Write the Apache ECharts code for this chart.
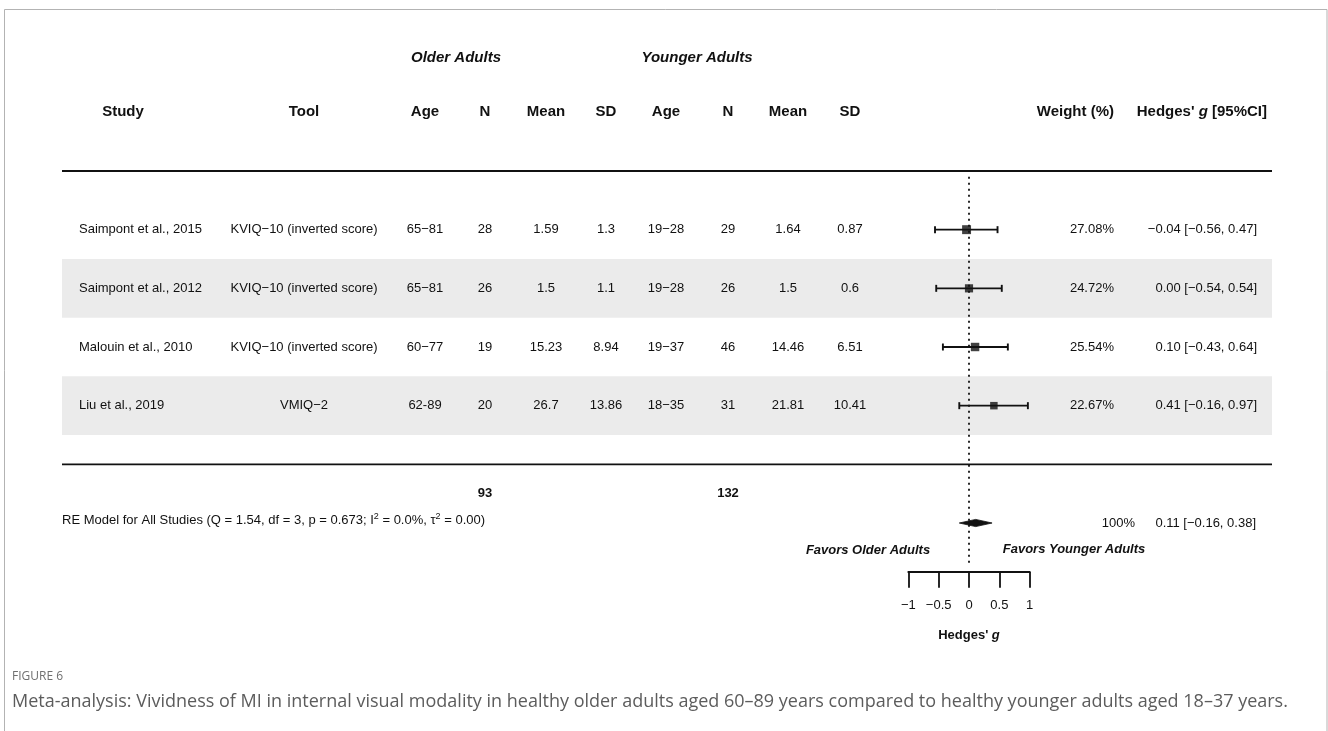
<!DOCTYPE html>
<html>
<head>
<meta charset="utf-8">
<script src="https://cdn.jsdelivr.net/npm/echarts@6/dist/echarts.min.js"></script>
<style>
  html, body { margin: 0; padding: 0; background: #ffffff; }
  #chart { width: 1328px; height: 731px; }
</style>
</head>
<body>
<div id="chart"></div>
<script>
// ---- Study data ----
const studies = ["Saimpont et al., 2015", "Saimpont et al., 2012", "Malouin et al., 2010", "Liu et al., 2019"];
const tools = ["KVIQ\u221210 (inverted score)", "KVIQ\u221210 (inverted score)", "KVIQ\u221210 (inverted score)", "VMIQ\u22122"];
const olderAge = ["65\u221281", "65\u221281", "60\u221277", "62-89"];
const olderN = [28, 26, 19, 20];
const olderMean = [1.59, 1.5, 15.23, 26.7];
const olderSD = [1.3, 1.1, 8.94, 13.86];
const youngerAge = ["19\u221228", "19\u221228", "19\u221237", "18\u221235"];
const youngerN = [29, 26, 46, 31];
const youngerMean = [1.64, 1.5, 14.46, 21.81];
const youngerSD = [0.87, 0.6, 6.51, 10.41];
const weights = [27.08, 24.72, 25.54, 22.67];
const hedgesG = [-0.04, 0.00, 0.10, 0.41];
const ciLower = [-0.56, -0.54, -0.43, -0.16];
const ciUpper = [0.47, 0.54, 0.64, 0.97];

// ---- Pooled (random-effects) result ----
const pooledG = 0.11;
const pooledLower = -0.16;
const pooledUpper = 0.38;
const pooledWeight = 100;
const totalOlderN = 93;
const totalYoungerN = 132;
const modelLabel = "RE Model for All Studies (Q = 1.54, df = 3, p = 0.673; I{sup|2} = 0.0%, \u03c4{sup|2} = 0.00)";

// ---- Axis ticks ----
const xTicks = [-1, -0.5, 0, 0.5, 1];

// ---- Layout ----
const FONT = "'Liberation Sans', Arial, sans-serif";
const INK = "#111111";
const ROW_UNITS = studies.map((_, i) => i);   // study rows, top to bottom
const SUMMARY_ROW = 5;
const colX = { tool: 304, oAge: 425, oN: 485, oMean: 546, oSD: 606, yAge: 666, yN: 728, yMean: 788, ySD: 850 };
const TABLE_LEFT = 62, TABLE_RIGHT = 1272;

const fmtSigned = v => (v < 0 ? "\u2212" : "") + Math.abs(v).toFixed(2);
const ciText = (g, lo, hi) => `${fmtSigned(g)} [${fmtSigned(lo)}, ${fmtSigned(hi)}]`;

const chart = echarts.init(document.getElementById('chart'), null, { renderer: 'canvas' });

const option = {
  animation: false,
  backgroundColor: '#ffffff',
  grid: { left: 908.3, right: 298.3, top: 171, bottom: 159.3, outerBoundsMode: 'none' },
  xAxis: {
    type: 'value', min: xTicks[0], max: xTicks[xTicks.length - 1], interval: 0.5,
    splitLine: { show: false },
    axisLine: { show: true, onZero: false, lineStyle: { color: INK, width: 1.8 } },
    axisTick: { show: true, inside: false, length: 16, lineStyle: { color: INK, width: 1.8 } },
    axisLabel: {
      margin: 27, color: INK, fontSize: 13, fontFamily: FONT,
      formatter: v => (v < 0 ? "\u2212" + Math.abs(v) : String(v))
    },
    name: "Hedges' {i|g}", nameLocation: 'middle', nameGap: 57,
    nameTextStyle: {
      color: INK, fontSize: 13, fontWeight: 'bold', fontFamily: FONT,
      rich: { i: { fontStyle: 'italic', fontWeight: 'bold', fontSize: 13, fontFamily: FONT, color: INK } }
    }
  },
  yAxis: {
    type: 'value', inverse: true, min: -1, max: 5.83, show: false
  },
  series: [
    {
      // reference line at no effect
      type: 'line', silent: true, symbol: 'none', z: 1,
      data: [[0, -0.9], [0, 5.7]],
      lineStyle: { color: INK, width: 1.8, type: [1.8, 4.2] }
    },
    {
      // 95% confidence intervals with end caps
      type: 'custom', silent: true, z: 3,
      data: ROW_UNITS.map(i => [ciLower[i], ciUpper[i], i]),
      encode: { x: [0, 1], y: 2 },
      renderItem: (params, api) => {
        const a = api.coord([api.value(0), api.value(2)]);
        const b = api.coord([api.value(1), api.value(2)]);
        const st = { stroke: INK, lineWidth: 1.9 };
        return {
          type: 'group',
          children: [
            { type: 'line', shape: { x1: a[0], y1: a[1], x2: b[0], y2: b[1] }, style: st },
            { type: 'line', shape: { x1: a[0], y1: a[1] - 3.5, x2: a[0], y2: a[1] + 3.5 }, style: st },
            { type: 'line', shape: { x1: b[0], y1: b[1] - 3.5, x2: b[0], y2: b[1] + 3.5 }, style: st }
          ]
        };
      }
    },
    {
      // point estimates sized by weight
      type: 'scatter', silent: true, z: 4, symbol: 'rect',
      data: ROW_UNITS.map(i => [hedgesG[i], i, weights[i]]),
      symbolSize: v => v[2] * 0.33,
      itemStyle: { color: INK }
    },
    {
      // pooled estimate diamond
      type: 'custom', silent: true, z: 4,
      data: [[pooledLower, pooledG, pooledUpper, SUMMARY_ROW]],
      encode: { x: [0, 1, 2], y: 3 },
      renderItem: (params, api) => {
        const y = api.value(3);
        const l = api.coord([api.value(0), y]);
        const c = api.coord([api.value(1), y]);
        const r = api.coord([api.value(2), y]);
        return {
          type: 'polygon',
          shape: { points: [[l[0], l[1]], [c[0], c[1] - 3.6], [r[0], r[1]], [c[0], c[1] + 3.6]] },
          style: { fill: INK, stroke: INK, lineWidth: 0.8 }
        };
      }
    }
  ]
};
chart.setOption(option);

// ---- Table text, rules and shading positioned on the same row scale ----
const yPix = u => chart.convertToPixel({ gridIndex: 0 }, [0, u])[1];

function txt(x, u, text, o) {
  o = o || {};
  return {
    type: 'text', x: x, y: yPix(u), z: 10, silent: true,
    style: {
      text: String(text), align: o.align || 'center', verticalAlign: 'middle',
      fontSize: o.size || 13, fontFamily: o.family || FONT,
      fontWeight: o.bold ? 'bold' : 'normal', fontStyle: o.italic ? 'italic' : 'normal',
      fill: o.color || INK, rich: o.rich
    }
  };
}

const els = [];

// frame
els.push({ type: 'rect', z: 0, silent: true, shape: { x: 4.5, y: 9.5, width: 1322.5, height: 760 },
  style: { fill: null, stroke: '#b3b3b3', lineWidth: 1 } });

// shaded alternate rows
ROW_UNITS.filter(i => i % 2 === 1).forEach(i => {
  const t = yPix(i - 0.5), b = yPix(i + 0.5);
  els.push({ type: 'rect', z: -1, silent: true, shape: { x: TABLE_LEFT, y: t, width: TABLE_RIGHT - TABLE_LEFT, height: b - t },
    style: { fill: '#ebebeb' } });
});

// horizontal rules
[-1, 4].forEach(u => {
  const y = yPix(u);
  els.push({ type: 'line', z: 5, silent: true, shape: { x1: TABLE_LEFT, y1: y, x2: TABLE_RIGHT, y2: y },
    style: { stroke: INK, lineWidth: 1.8 } });
});

// group headers
els.push(txt(456, -2.92, "Older Adults", { bold: true, italic: true, size: 15 }));
els.push(txt(697, -2.92, "Younger Adults", { bold: true, italic: true, size: 15 }));

// column headers
const H = -2;
const hb = { bold: true, size: 15 };
els.push(txt(123, H, "Study", hb));
els.push(txt(colX.tool, H, "Tool", hb));
els.push(txt(colX.oAge, H, "Age", hb));
els.push(txt(colX.oN, H, "N", hb));
els.push(txt(colX.oMean, H, "Mean", hb));
els.push(txt(colX.oSD, H, "SD", hb));
els.push(txt(colX.yAge, H, "Age", hb));
els.push(txt(colX.yN, H, "N", hb));
els.push(txt(colX.yMean, H, "Mean", hb));
els.push(txt(colX.ySD, H, "SD", hb));
els.push(txt(1114, H, "Weight (%)", { bold: true, size: 15, align: 'right' }));
els.push(txt(1267, H, "Hedges' {i|g} [95%CI]", { bold: true, size: 15, align: 'right',
  rich: { i: { fontStyle: 'italic', fontWeight: 'bold', fontSize: 15, fontFamily: FONT, fill: INK, color: INK } } }));

// study rows
ROW_UNITS.forEach(i => {
  els.push(txt(79, i, studies[i], { align: 'left' }));
  els.push(txt(colX.tool, i, tools[i]));
  els.push(txt(colX.oAge, i, olderAge[i]));
  els.push(txt(colX.oN, i, olderN[i]));
  els.push(txt(colX.oMean, i, olderMean[i]));
  els.push(txt(colX.oSD, i, olderSD[i]));
  els.push(txt(colX.yAge, i, youngerAge[i]));
  els.push(txt(colX.yN, i, youngerN[i]));
  els.push(txt(colX.yMean, i, youngerMean[i]));
  els.push(txt(colX.ySD, i, youngerSD[i]));
  els.push(txt(1114, i, weights[i].toFixed(2) + "%", { align: 'right' }));
  els.push(txt(1257, i, ciText(hedgesG[i], ciLower[i], ciUpper[i]), { align: 'right' }));
});

// totals and pooled row
els.push(txt(colX.oN, 4.5, totalOlderN, { bold: true }));
els.push(txt(colX.yN, 4.5, totalYoungerN, { bold: true }));
els.push(txt(62, 4.95, modelLabel, { align: 'left',
  rich: { sup: { fontSize: 9, fontFamily: FONT, fill: INK, color: INK, padding: [0, 0, 7, 0] } } }));
els.push(txt(1135, SUMMARY_ROW, pooledWeight + "%", { align: 'right' }));
els.push(txt(1256, SUMMARY_ROW, ciText(pooledG, pooledLower, pooledUpper), { align: 'right' }));

// direction labels
els.push(txt(868, 5.46, "Favors Older Adults", { bold: true, italic: true }));
els.push(txt(1074, 5.45, "Favors Younger Adults", { bold: true, italic: true }));

// caption
const CAP_FONT = "'Open Sans', 'Noto Sans', sans-serif";
els.push({ type: 'text', x: 12, y: 677, silent: true,
  style: { text: "FIGURE 6", fontSize: 12, fontFamily: CAP_FONT, fill: '#6f6f6f', verticalAlign: 'middle', align: 'left' } });
els.push({ type: 'text', x: 12, y: 702, silent: true,
  style: { text: "Meta-analysis: Vividness of MI in internal visual modality in healthy older adults aged 60\u201389 years compared to healthy younger adults aged 18\u201337 years.",
    fontSize: 18, fontFamily: CAP_FONT, fill: '#5c5c5c', verticalAlign: 'middle', align: 'left' } });

chart.setOption({ graphic: { elements: els } });
</script>
</body>
</html>
